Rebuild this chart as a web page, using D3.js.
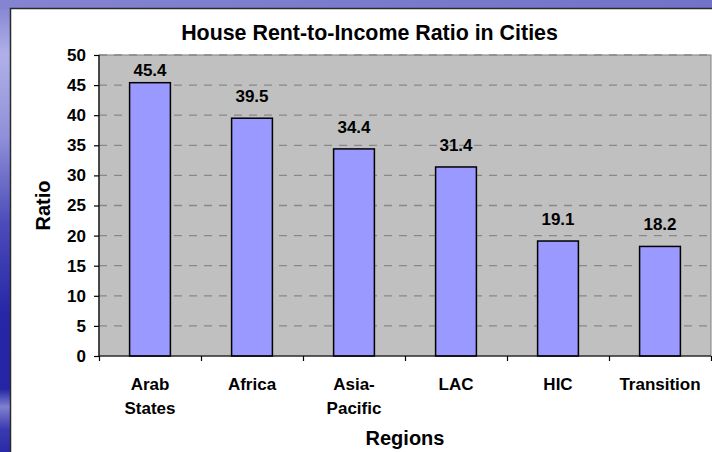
<!DOCTYPE html>
<html>
<head>
<meta charset="utf-8">
<script src="https://cdn.jsdelivr.net/npm/d3@7/dist/d3.min.js"></script>
<style>
  html, body { margin: 0; padding: 0; background: #fff; }
  svg { display: block; font-family: "Liberation Sans", Arial, sans-serif; font-weight: bold; }
</style>
</head>
<body>
<svg id="chart" width="712" height="452"></svg>
<script>
// chart values
var categories = [['Arab', 'States'], ['Africa'], ['Asia-', 'Pacific'], ['LAC'], ['HIC'], ['Transition']];
var ratios = [45.4, 39.5, 34.4, 31.4, 19.1, 18.2];
var yTicks = [0, 5, 10, 15, 20, 25, 30, 35, 40, 45, 50];
var chartTitle = 'House Rent-to-Income Ratio in Cities';
var xTitle = 'Regions';
var yTitle = 'Ratio';

var svg = d3.select('#chart');
var W = 712, H = 452;
var plot = { left: 99, right: 711, top: 55, bottom: 356 };

// slide background: blue strips on the left and top
var defs = svg.append('defs');
var lg = defs.append('linearGradient').attr('id', 'leftStrip')
  .attr('x1', 0).attr('y1', 0).attr('x2', 0).attr('y2', 1);
[[0, '#8080d0'], [0.12, '#b0b0e8'], [0.3, '#9090da'], [0.5, '#4a4ab8'], [0.7, '#2626a6'],
 [0.86, '#2424a4'], [0.9, '#8080d0'], [0.95, '#3a3ab0'], [1, '#2a2aa8']]
  .forEach(function(s) { lg.append('stop').attr('offset', s[0]).attr('stop-color', s[1]); });
var tg = defs.append('linearGradient').attr('id', 'topStrip')
  .attr('x1', 0).attr('y1', 0).attr('x2', 1).attr('y2', 0);
[[0, '#8484d2'], [1, '#7272c8']]
  .forEach(function(s) { tg.append('stop').attr('offset', s[0]).attr('stop-color', s[1]); });

svg.append('rect').attr('width', W).attr('height', H).attr('fill', '#fff');
svg.append('rect').attr('x', 0).attr('y', 0).attr('width', 11).attr('height', H).attr('fill', 'url(#leftStrip)');
svg.append('rect').attr('x', 0).attr('y', 0).attr('width', W).attr('height', 9).attr('fill', 'url(#topStrip)');
svg.append('path')
  .attr('d', 'M10.5,' + H + 'V8.5H' + W)
  .attr('fill', 'none').attr('stroke', '#2a2a2a').attr('stroke-width', 1.5);

// scales
var y = d3.scaleLinear().domain([0, 50]).range([plot.bottom, plot.top]);
var x = d3.scaleBand().domain(d3.range(ratios.length))
  .range([plot.left, plot.right]).paddingInner(0.6).paddingOuter(0.3);
var slots = d3.scaleLinear().domain([0, ratios.length]).range([plot.left, plot.right]);

// plot area
svg.append('rect')
  .attr('x', plot.left).attr('y', plot.top)
  .attr('width', plot.right - plot.left).attr('height', plot.bottom - plot.top)
  .attr('fill', '#c0c0c0').attr('stroke', '#808080').attr('stroke-width', 1);

// dashed gridlines
svg.append('g').selectAll('line')
  .data(yTicks.filter(function(t) { return t > 0; }))
  .enter().append('line')
  .attr('x1', plot.left).attr('x2', plot.right)
  .attr('y1', function(d) { return y(d); }).attr('y2', function(d) { return y(d); })
  .attr('stroke', '#888').attr('stroke-width', 1.3).attr('stroke-dasharray', '8,7');

// bars
svg.append('g').selectAll('rect')
  .data(ratios)
  .enter().append('rect')
  .attr('x', function(d, i) { return x(i); })
  .attr('y', function(d) { return y(d); })
  .attr('width', x.bandwidth())
  .attr('height', function(d) { return y(0) - y(d); })
  .attr('fill', '#9999ff').attr('stroke', '#000').attr('stroke-width', 1.5);

// value labels (pushed down when they would run into the top of the plot)
svg.append('g').selectAll('text')
  .data(ratios)
  .enter().append('text')
  .attr('x', function(d, i) { return x(i) + x.bandwidth() / 2; })
  .attr('y', function(d) { return Math.max(y(d) - 16, plot.top + 21); })
  .attr('text-anchor', 'middle')
  .attr('font-size', 17)
  .text(function(d) { return d.toFixed(1); });

// y axis
var yAxis = svg.append('g')
  .attr('transform', 'translate(' + plot.left + ',0)')
  .call(d3.axisLeft(y).tickValues(yTicks).tickSize(5).tickPadding(8));
yAxis.selectAll('text').attr('font-size', 17).attr('font-family', null).attr('fill', '#000');
yAxis.selectAll('line, path').attr('stroke', '#000').attr('stroke-width', 1.2);
yAxis.select('.domain').attr('d', 'M0,' + plot.top + 'V' + plot.bottom);

// x axis with ticks between categories
var xAxis = svg.append('g')
  .attr('transform', 'translate(0,' + plot.bottom + ')')
  .call(d3.axisBottom(slots).ticks(ratios.length).tickSize(5).tickFormat(''));
xAxis.selectAll('line, path').attr('stroke', '#000').attr('stroke-width', 1.2);
xAxis.select('.domain').attr('d', 'M' + plot.left + ',0H' + plot.right);

// category labels
var cat = svg.append('g').selectAll('text')
  .data(categories)
  .enter().append('text')
  .attr('text-anchor', 'middle')
  .attr('font-size', 17)
  .attr('x', function(d, i) { return x(i) + x.bandwidth() / 2; })
  .attr('y', 390);
cat.selectAll('tspan')
  .data(function(d) { return d; })
  .enter().append('tspan')
  .attr('x', function() { return d3.select(this.parentNode).attr('x'); })
  .attr('dy', function(d, i) { return i ? 24 : 0; })
  .text(function(d) { return d; });

// titles
svg.append('text')
  .attr('x', 369.5).attr('y', 40)
  .attr('text-anchor', 'middle').attr('font-size', 21.4)
  .text(chartTitle);

svg.append('text')
  .attr('x', (plot.left + plot.right) / 2).attr('y', 445)
  .attr('text-anchor', 'middle').attr('font-size', 20)
  .text(xTitle);

svg.append('text')
  .attr('transform', 'translate(50,' + (plot.top + plot.bottom) / 2 + ') rotate(-90)')
  .attr('text-anchor', 'middle').attr('font-size', 20)
  .text(yTitle);
</script>
</body>
</html>
